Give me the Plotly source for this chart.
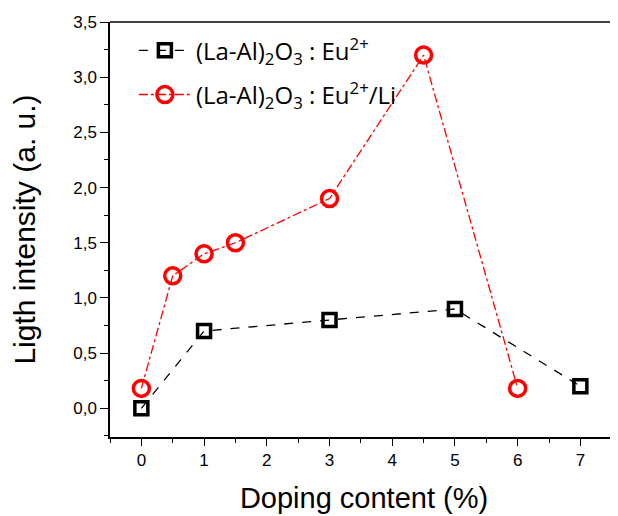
import plotly.graph_objects as go

x_eu = [0, 1, 3, 5, 7]
y_eu = [0.0, 0.7, 0.8, 0.9, 0.2]
x_li = [0, 0.5, 1, 1.5, 3, 4.5, 6]
y_li = [0.18, 1.2, 1.4, 1.5, 1.9, 3.2, 0.18]

name_eu = "(La-Al)<sub>2</sub>O<sub>3</sub> : Eu<sup>2+</sup>"
name_li = "(La-Al)<sub>2</sub>O<sub>3</sub> : Eu<sup>2+</sup>/Li"

fig = go.Figure()
fig.add_trace(go.Scatter(
    x=x_eu, y=y_eu, name=name_eu, mode="lines+markers", legendgroup="a",
    line=dict(color="black", dash="dash", width=1.3),
    marker=dict(symbol="square-open", size=13, color="black", line=dict(width=3.5, color="black")),
))
fig.add_trace(go.Scatter(
    x=x_li, y=y_li, name=name_li, mode="lines+markers", legendgroup="b",
    line=dict(color="red", dash="dashdot", width=1.3),
    marker=dict(symbol="circle-open", size=16, color="red", line=dict(width=3.5, color="red")),
))

# page body has an 8px margin, so the figure is drawn 8px in from the window corner
fig.update_layout(
    width=610, height=508,
    margin=dict(l=102, r=0, t=14, b=79),
    paper_bgcolor="white", plot_bgcolor="white",
    separators=", ",
    showlegend=True,
    legend=dict(x=0.047, y=0.985, xanchor="left", yanchor="top",
                font=dict(family="Open Sans", size=24, color="black"),
                bgcolor="rgba(0,0,0,0)", tracegroupgap=10, itemwidth=52),
    font=dict(family="Liberation Sans, Arial", color="black"),
)
fig.update_xaxes(
    range=[-0.5, 7.6], dtick=1, tick0=0, automargin=False,
    showgrid=False, zeroline=False,
    showline=True, linecolor="black", linewidth=1.5, mirror=False,
    ticks="outside", ticklen=7, tickwidth=1.2, tickcolor="black",
    minor=dict(ticks="outside", ticklen=4, dtick=0.5, tick0=0, tickcolor="black", showgrid=False),
    tickfont=dict(size=17, family="Liberation Sans, Arial"),
    title=dict(text="Doping content (%)", font=dict(size=29, family="Liberation Sans, Arial"), standoff=19),
)
fig.update_yaxes(
    range=[-0.26, 3.5], dtick=0.5, tick0=0, tickformat=".1f", automargin=False,
    showgrid=False, zeroline=False,
    showline=True, linecolor="black", linewidth=1.5,
    ticks="outside", ticklen=8, tickwidth=1.2, tickcolor="black",
    minor=dict(ticks="outside", ticklen=4, dtick=0.25, tick0=0, tickcolor="black", showgrid=False),
    tickfont=dict(size=17, family="Liberation Sans, Arial"),
    title=dict(text="Ligth intensity (a. u.)", font=dict(size=30, family="Liberation Sans, Arial"), standoff=29),
)
# top frame line
fig.add_shape(type="line", xref="paper", yref="paper", x0=0, x1=1, y0=1, y1=1,
              line=dict(color="black", width=1.5))

fig.write_html("out.html")
